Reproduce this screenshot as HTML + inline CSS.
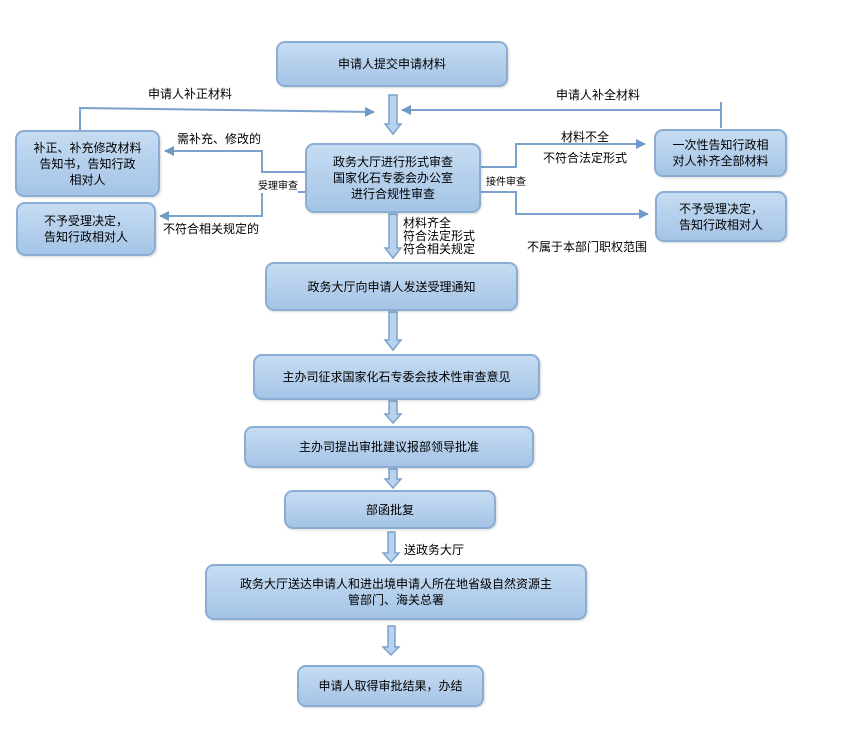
<!DOCTYPE html>
<html><head><meta charset="utf-8"><style>
body{margin:0;width:845px;height:730px;background:#fff;position:relative;overflow:hidden;font-family:"Liberation Sans","Noto Sans CJK SC",sans-serif;font-size:12px;color:#000}
.b{position:absolute;box-sizing:border-box;border:2px solid #8aaed3;border-radius:9px;background:linear-gradient(#c6dcf2,#a5c4e6);display:flex;align-items:center;justify-content:center;text-align:center;line-height:16px;box-shadow:1px 1px 2px rgba(0,0,0,.15)}
.t{position:absolute;white-space:nowrap;line-height:13px}
svg{position:absolute;left:0;top:0}
</style></head><body>
<svg width="845" height="730">
<defs><marker id="a" markerWidth="10" markerHeight="10" refX="9" refY="5" orient="auto" markerUnits="userSpaceOnUse"><path d="M0,0 L10,5 L0,10 z" fill="#6f9ac6"/></marker></defs>
<g fill="none" stroke="#7aa2cc" stroke-width="2">
<polyline points="80,130 80,108 374,112" marker-end="url(#a)"/>
<polyline points="721,128 721,110 402,110" marker-end="url(#a)"/>
<line x1="721" y1="102" x2="721" y2="110"/>
<polyline points="305,172 262,172 262,151 165,151" marker-end="url(#a)"/>
<polyline points="305,192 262,192 262,216 160,216" marker-end="url(#a)"/>
<polyline points="481,167 516,167 516,144 645,144" marker-end="url(#a)"/>
<polyline points="481,192 516,192 516,214 648,214" marker-end="url(#a)"/>
</g>
<g fill="#b9d2ee" stroke="#7aa2cc" stroke-width="1.5">
<polygon points="389,95 397,95 397,124 401,124 393,134 385,124 389,124"/>
<polygon points="389,214 397,214 397,248 401,248 393,258 385,248 389,248"/>
<polygon points="389,312 397,312 397,340 401,340 393,350 385,340 389,340"/>
<polygon points="389,401 397,401 397,414 401,414 393,423 385,414 389,414"/>
<polygon points="389,469 397,469 397,479 401,479 393,488 385,479 389,479"/>
<polygon points="388,532 395,532 395,553 399,553 391,562 383,553 388,553"/>
<polygon points="388,626 395,626 395,647 399,647 391,655 383,647 388,647"/>
</g>
</svg>
<div class="b" style="left:276px;top:41px;width:232px;height:46px">申请人提交申请材料</div>
<div class="b" style="left:305px;top:143px;width:176px;height:70px">政务大厅进行形式审查<br>国家化石专委会办公室<br>进行合规性审查</div>
<div class="b" style="left:15px;top:130px;width:145px;height:67px">补正、补充修改材料<br>告知书，告知行政<br>相对人</div>
<div class="b" style="left:16px;top:202px;width:140px;height:54px">不予受理决定，<br>告知行政相对人</div>
<div class="b" style="left:654px;top:129px;width:133px;height:48px">一次性告知行政相<br>对人补齐全部材料</div>
<div class="b" style="left:655px;top:191px;width:132px;height:51px">不予受理决定，<br>告知行政相对人</div>
<div class="b" style="left:265px;top:262px;width:253px;height:49px">政务大厅向申请人发送受理通知</div>
<div class="b" style="left:253px;top:354px;width:287px;height:46px">主办司征求国家化石专委会技术性审查意见</div>
<div class="b" style="left:244px;top:426px;width:290px;height:42px">主办司提出审批建议报部领导批准</div>
<div class="b" style="left:284px;top:490px;width:212px;height:39px">部函批复</div>
<div class="b" style="left:205px;top:564px;width:382px;height:56px">政务大厅送达申请人和进出境申请人所在地省级自然资源主<br>管部门、海关总署</div>
<div class="b" style="left:297px;top:665px;width:187px;height:42px">申请人取得审批结果，办结</div>
<div class="t" style="left:148px;top:88px">申请人补正材料</div>
<div class="t" style="left:556px;top:89px">申请人补全材料</div>
<div class="t" style="left:177px;top:133px">需补充、修改的</div>
<div class="t" style="left:258px;top:180px;font-size:10px;background:#fff">受理审查</div>
<div class="t" style="left:163px;top:223px">不符合相关规定的</div>
<div class="t" style="left:561px;top:131px">材料不全</div>
<div class="t" style="left:543px;top:152px">不符合法定形式</div>
<div class="t" style="left:486px;top:176px;font-size:10px;background:#fff">接件审查</div>
<div class="t" style="left:527px;top:241px">不属于本部门职权范围</div>
<div class="t" style="left:403px;top:217px;line-height:13px">材料齐全<br>符合法定形式<br>符合相关规定</div>
<div class="t" style="left:404px;top:544px">送政务大厅</div>
</body></html>
